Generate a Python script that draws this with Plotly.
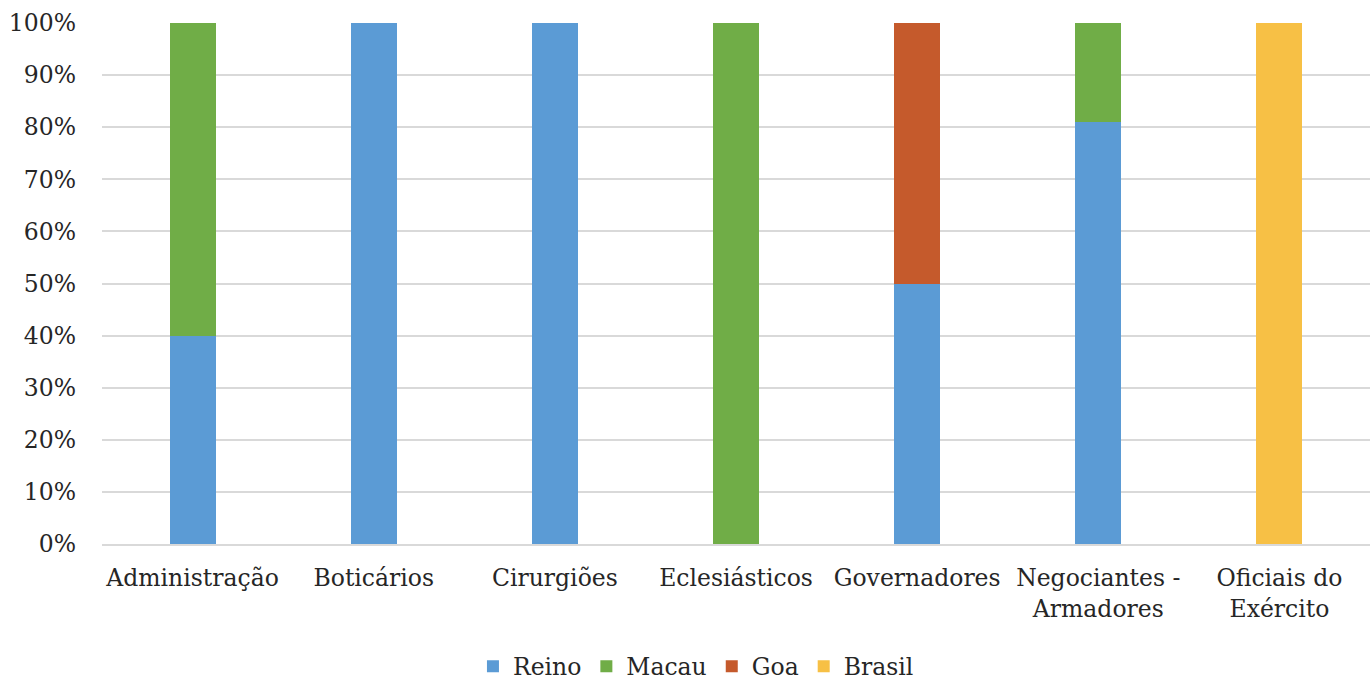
import plotly.graph_objects as go

categories = ["Administração", "Boticários", "Cirurgiões", "Eclesiásticos",
              "Governadores", "Negociantes -<br>Armadores", "Oficiais do<br>Exército"]
reino = [0.40, 1.00, 1.00, 0.00, 0.50, 0.81, 0.00]
macau = [0.60, 0.00, 0.00, 1.00, 0.00, 0.19, 0.00]
goa = [0.00, 0.00, 0.00, 0.00, 0.50, 0.00, 0.00]
brasil = [0.00, 0.00, 0.00, 0.00, 0.00, 0.00, 1.00]
y_ticks = [i / 10 for i in range(11)]

series = [
    ("Reino", reino, "#5B9BD5"),
    ("Macau", macau, "#70AD47"),
    ("Goa", goa, "#C55A2C"),
    ("Brasil", brasil, "#F7C045"),
]

fig = go.Figure()
for name, vals, color in series:
    fig.add_trace(go.Bar(x=categories, y=vals, name=name,
                         marker=dict(color=color, line=dict(width=0))))

font = dict(family="DejaVu Serif", size=23.5, color="#262626")
fig.update_layout(
    barmode="stack",
    bargap=0.746,
    width=1370, height=680,
    margin=dict(l=102, r=0, t=23, b=136),
    plot_bgcolor="white", paper_bgcolor="white",
    font=font,
    showlegend=True,
    legend=dict(orientation="h", xref="container", yref="container",
                x=0.508, xanchor="center", y=0.02, yanchor="middle",
                font=font, traceorder="normal"),
    xaxis=dict(showgrid=False, showline=True, linecolor="#d9d9d9", linewidth=2,
               ticks="", ticklabelstandoff=12, tickfont=font, fixedrange=True),
    yaxis=dict(range=[0, 1], tickvals=y_ticks, tickformat=".0%",
               showgrid=True, gridcolor="#d9d9d9", gridwidth=2,
               zeroline=False, showline=False, ticks="",
               ticklabelstandoff=25, tickfont=font, fixedrange=True),
)
fig.write_html("out.html")
